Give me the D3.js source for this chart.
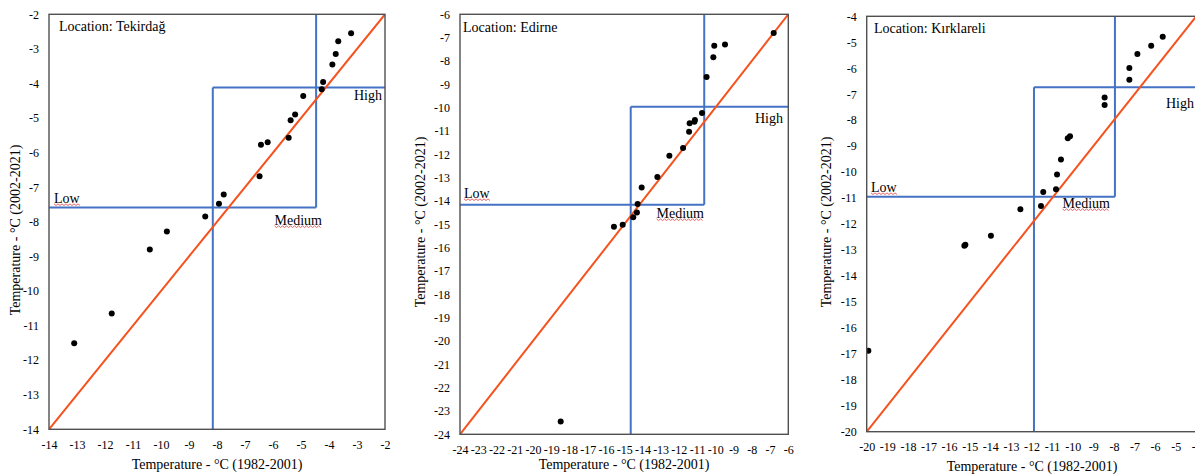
<!DOCTYPE html>
<html>
<head>
<meta charset="utf-8">
<script src="https://cdn.jsdelivr.net/npm/d3@7"></script>
<style>
  body { margin: 0; background: #fff; }
  svg { display: block; }
  text { font-family: "Liberation Serif", "Times New Roman", serif; fill: #000; }
</style>
</head>
<body>
<svg id="chart" width="1195" height="475"></svg>
<script>
// Station names shown in each panel
const stations = ["Tekirdağ", "Edirne", "Kırklareli"];

// Annual minimum temperatures: 1982-2001 (x) against 2002-2021 (y), °C
const tekirdagOld = [-3.21, -3.67, -3.76, -3.88, -4.21, -4.26, -4.92, -5.21, -5.37, -5.44,
                     -6.19, -6.43, -6.48, -7.76, -7.93, -8.42, -9.79, -10.40, -11.76, -13.10];
const tekirdagNew = [-2.55, -2.78, -3.15, -3.45, -3.96, -4.17, -4.36, -4.90, -5.06, -5.57,
                     -5.70, -5.77, -6.68, -7.21, -7.48, -7.85, -8.28, -8.80, -10.65, -11.51];

const edirneOld = [-6.80, -9.47, -10.06, -10.11, -10.48, -10.73, -11.12, -11.15, -11.41, -11.44,
                   -11.77, -12.52, -13.18, -14.04, -14.26, -14.30, -14.50, -15.08, -15.56, -18.48];
const edirneNew = [-6.80, -7.29, -7.35, -7.84, -8.69, -10.23, -10.53, -10.60, -10.67, -11.03,
                   -11.73, -12.06, -12.97, -13.42, -14.13, -14.49, -14.70, -15.02, -15.10, -23.45];

const kirklareliOld = [-5.63, -6.19, -6.86, -7.25, -7.25, -8.45, -8.45, -10.13, -10.24, -10.57,
                       -10.76, -10.81, -11.43, -11.54, -12.54, -13.97, -15.21, -15.26, -19.92];
const kirklareliNew = [-4.79, -5.13, -5.45, -5.99, -6.44, -7.13, -7.42, -8.62, -8.70, -9.52,
                       -10.09, -10.66, -10.77, -11.31, -11.43, -12.45, -12.80, -12.84, -16.88];

// Class limits: [1982-2001 low, 1982-2001 high, 2002-2021 low, 2002-2021 high]
const tekirdagLimits   = [-8.15, -4.46, -7.59, -4.12];
const edirneLimits     = [-14.64, -10.61, -14.16, -9.96];
const kirklareliLimits = [-11.88, -7.95, -10.95, -6.73];

// Axis ticks (same set on both axes of a panel)
const tekirdagTicks   = [-14, -13, -12, -11, -10, -9, -8, -7, -6, -5, -4, -3, -2];
const edirneTicks     = [-24, -23, -22, -21, -20, -19, -18, -17, -16, -15, -14, -13, -12, -11, -10, -9, -8, -7, -6];
const kirklareliTicks = [-20, -19, -18, -17, -16, -15, -14, -13, -12, -11, -10, -9, -8, -7, -6, -5, -4];

const classNames = ["Low", "Medium", "High"];
const xTitle = "Temperature - °C (1982-2001)";
const yTitle = "Temperature - °C (2002-2021)";

// Panel layout (pixel boxes and text anchors)
const panels = [
  { name: stations[0], xs: tekirdagOld, ys: tekirdagNew, lim: tekirdagLimits, ticks: tekirdagTicks,
    box: { l: 49, r: 385, t: 14.3, b: 429.3 },
    loc: [59, 30.5], low: [54, 203], med: [322, 225], high: [382, 100],
    yt: [15, 230], xt: [217, 469] },
  { name: stations[1], xs: edirneOld, ys: edirneNew, lim: edirneLimits, ticks: edirneTicks,
    box: { l: 460, r: 788.3, t: 14.3, b: 434.3 },
    loc: [463, 32], low: [464, 198], med: [704, 218], high: [783, 123],
    yt: [420, 222], xt: [624, 469] },
  { name: stations[2], xs: kirklareliOld, ys: kirklareliNew, lim: kirklareliLimits, ticks: kirklareliTicks,
    box: { l: 866.7, r: 1196.3, t: 16.3, b: 431.7 },
    loc: [874, 32.5], low: [871, 192], med: [1110, 208], high: [1194, 108],
    yt: [826, 222], xt: [1032, 471] }
];

const svg = d3.select("#chart");
const BLUE = "#4472C4", ORANGE = "#F5521E", FRAME = "#505050";

// Red wavy underline, like a spell-check mark
function squiggle(g, textSel) {
  const bb = textSel.node().getBBox();
  const y0 = bb.y + bb.height - 1.5;
  const pts = [];
  for (let x = bb.x, i = 0; x <= bb.x + bb.width; x += 2, i++) pts.push([x, y0 + (i % 2 ? 1 : -0.6)]);
  g.append("path").attr("d", d3.line()(pts))
    .attr("fill", "none").attr("stroke", "#E23B3B").attr("stroke-width", 0.8);
}

panels.forEach((p, i) => {
  const g = svg.append("g");
  const lo = p.ticks[0], hi = p.ticks[p.ticks.length - 1];
  const x = d3.scaleLinear().domain([lo, hi]).range([p.box.l, p.box.r]);
  const y = d3.scaleLinear().domain([lo, hi]).range([p.box.b, p.box.t]);

  const clipId = "clip" + i;
  g.append("clipPath").attr("id", clipId).append("rect")
    .attr("x", p.box.l).attr("y", p.box.t)
    .attr("width", p.box.r - p.box.l).attr("height", p.box.b - p.box.t);

  const plot = g.append("g").attr("clip-path", `url(#${clipId})`);

  // Class boundaries
  const [oL, oH, nL, nH] = p.lim;
  const segs = [
    [[lo, nL], [oH, nL]], [[oH, nL], [oH, hi]],
    [[oL, lo], [oL, nH]], [[oL, nH], [hi, nH]]
  ];
  plot.selectAll(".lim").data(segs).join("line")
    .attr("x1", d => x(d[0][0])).attr("y1", d => y(d[0][1]))
    .attr("x2", d => x(d[1][0])).attr("y2", d => y(d[1][1]))
    .attr("stroke", BLUE).attr("stroke-width", 2);

  // 1:1 line
  plot.append("line")
    .attr("x1", x(lo)).attr("y1", y(lo)).attr("x2", x(hi)).attr("y2", y(hi))
    .attr("stroke", ORANGE).attr("stroke-width", 2);

  // Observations
  plot.selectAll("circle").data(d3.zip(p.xs, p.ys)).join("circle")
    .attr("cx", d => x(d[0])).attr("cy", d => y(d[1])).attr("r", 3).attr("fill", "#000");

  // Frame
  g.append("rect")
    .attr("x", p.box.l).attr("y", p.box.t)
    .attr("width", p.box.r - p.box.l).attr("height", p.box.b - p.box.t)
    .attr("fill", "none").attr("stroke", FRAME).attr("stroke-width", 1.4);

  // Axes (labels only)
  const xa = g.append("g").attr("transform", `translate(0,${p.box.b})`)
    .call(d3.axisBottom(x).tickValues(p.ticks).tickSize(0).tickPadding(11).tickFormat(d => String(d)));
  const ya = g.append("g").attr("transform", `translate(${p.box.l},0)`)
    .call(d3.axisLeft(y).tickValues(p.ticks).tickSize(0).tickPadding(10).tickFormat(d => String(d)));
  [xa, ya].forEach(a => {
    a.select(".domain").remove();
    a.selectAll("text").attr("font-size", 12).attr("font-family", "Liberation Serif").attr("fill", "#000");
  });

  // Titles
  g.append("text").attr("x", p.xt[0]).attr("y", p.xt[1]).attr("text-anchor", "middle")
    .attr("font-size", 14).text(xTitle);
  g.append("text").attr("transform", `translate(${p.yt[0]},${p.yt[1]}) rotate(-90)`)
    .attr("text-anchor", "middle").attr("dominant-baseline", "central")
    .attr("font-size", 14).text(yTitle);
  g.append("text").attr("x", p.loc[0]).attr("y", p.loc[1]).attr("font-size", 14)
    .text("Location: " + p.name);

  // Class labels
  const tLow = g.append("text").attr("x", p.low[0]).attr("y", p.low[1]).attr("font-size", 14).text(classNames[0]);
  const tMed = g.append("text").attr("x", p.med[0]).attr("y", p.med[1]).attr("font-size", 14)
    .attr("text-anchor", "end").text(classNames[1]);
  g.append("text").attr("x", p.high[0]).attr("y", p.high[1]).attr("font-size", 14)
    .attr("text-anchor", "end").text(classNames[2]);
  squiggle(g, tLow);
  squiggle(g, tMed);
});
</script>
</body>
</html>
